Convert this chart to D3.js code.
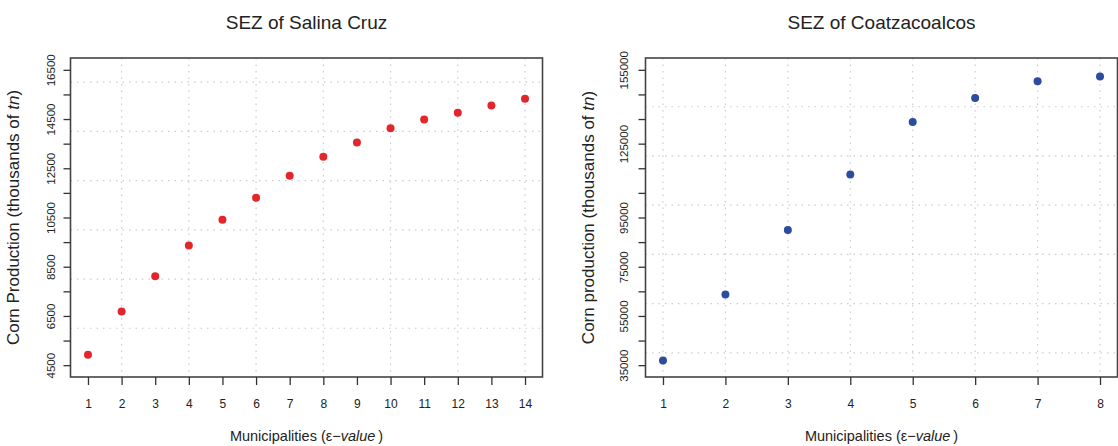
<!DOCTYPE html>
<html>
<head>
<meta charset="utf-8">
<script src="https://cdn.jsdelivr.net/npm/d3@7"></script>
<style>
  body { margin: 0; background: #fff; }
  text { font-family: "Liberation Sans", Arial, Helvetica, sans-serif; fill: #222; }
</style>
</head>
<body>
<svg id="chart" width="1118" height="446"></svg>
<script>
// ---- data ----
var salinaMun = [1, 2, 3, 4, 5, 6, 7, 8, 9, 10, 11, 12, 13, 14];
var salinaProd = [4920, 6680, 8110, 9360, 10410, 11300, 12200, 12970, 13550, 14130, 14480, 14760, 15050, 15320];
var salinaYTicks = [4500, 5500, 6500, 7500, 8500, 9500, 10500, 11500, 12500, 13500, 14500, 15500, 16500];
var salinaYLabels = [4500, 6500, 8500, 10500, 12500, 14500, 16500];
var salinaXGrid = [2, 4, 6, 8, 10, 12, 14];
var salinaYGrid = [6000, 8000, 10000, 12000, 14000, 16000];

var coatzaMun = [1, 2, 3, 4, 5, 6, 7, 8];
var coatzaProd = [36900, 63700, 89900, 112500, 133800, 143500, 150400, 152300];
var coatzaYTicks = [35000, 45000, 55000, 65000, 75000, 85000, 95000, 105000, 115000, 125000, 135000, 145000, 155000];
var coatzaYLabels = [35000, 55000, 75000, 95000, 125000, 155000];
var coatzaXGrid = [1, 2, 3, 4, 5, 6, 7, 8];
var coatzaYGrid = [40000, 60000, 80000, 100000, 120000, 140000];

var svg = d3.select("#chart");

var plotTop = 58, plotBottom = 377;

// R style: extend limits by 4% each side
function padded(lim) {
  var d = (lim[1] - lim[0]) * 0.04;
  return [lim[0] - d, lim[1] + d];
}

panel({
  left: 70.5, right: 542.5,
  mun: salinaMun, prod: salinaProd,
  xlim: [1, 14], ylim: [4500, 16500],
  yTicks: salinaYTicks, yLabels: salinaYLabels,
  xGrid: salinaXGrid, yGrid: salinaYGrid,
  color: "#e3262b",
  title: "SEZ of Salina Cruz",
  yTitle: "Corn Production",
  yTitleX: 18.5, labelOff: -16
});

panel({
  left: 645.5, right: 1117.5,
  mun: coatzaMun, prod: coatzaProd,
  xlim: [1, 8], ylim: [35000, 155000],
  yTicks: coatzaYTicks, yLabels: coatzaYLabels,
  xGrid: coatzaXGrid, yGrid: coatzaYGrid,
  color: "#2c4c9e",
  title: "SEZ of Coatzacoalcos",
  yTitle: "Corn production",
  yTitleX: 594, labelOff: -17.5
});

function panel(o) {
  var x = d3.scaleLinear().domain(padded(o.xlim)).range([o.left, o.right]);
  var y = d3.scaleLinear().domain(padded(o.ylim)).range([plotBottom, plotTop]);
  var g = svg.append("g");

  // dotted grid
  g.selectAll(".vgrid").data(o.xGrid).enter().append("line")
      .attr("x1", d => x(d)).attr("x2", d => x(d))
      .attr("y1", plotTop).attr("y2", plotBottom)
      .style("stroke", "#cccccc").style("stroke-width", 1.2)
      .style("stroke-dasharray", "1.5,5");
  g.selectAll(".hgrid").data(o.yGrid).enter().append("line")
      .attr("x1", o.left).attr("x2", o.right)
      .attr("y1", d => y(d)).attr("y2", d => y(d))
      .style("stroke", "#cccccc").style("stroke-width", 1.2)
      .style("stroke-dasharray", "1.5,5");

  // box
  g.append("rect")
      .attr("x", o.left).attr("y", plotTop)
      .attr("width", o.right - o.left).attr("height", plotBottom - plotTop)
      .style("fill", "none").style("stroke", "#444").style("stroke-width", 1.6);

  // x axis
  var xAxis = g.append("g")
      .attr("transform", "translate(0," + plotBottom + ")")
      .call(d3.axisBottom(x).tickValues(o.mun).tickSize(8).tickPadding(14).tickFormat(d3.format("d")))
      .call(a => a.select(".domain").remove());
  xAxis.selectAll("line").style("stroke", "#333").style("stroke-width", 1.3);
  xAxis.selectAll("text").style("font-size", "12px").style("font-family", null).style("fill", "#222");

  // y axis with rotated labels, some ticks unlabeled
  var yAxis = g.append("g")
      .attr("transform", "translate(" + o.left + ",0)")
      .call(d3.axisLeft(y).tickValues(o.yTicks).tickSize(7)
            .tickFormat(d => o.yLabels.indexOf(d) >= 0 ? d : ""))
      .call(a => a.select(".domain").remove());
  yAxis.selectAll("line").style("stroke", "#333").style("stroke-width", 1.3);
  yAxis.selectAll("text")
      .attr("x", 0).attr("dy", 0)
      .attr("text-anchor", "middle")
      .attr("transform", "translate(" + o.labelOff + ",0) rotate(-90)")
      .style("font-size", "11.5px").style("font-family", null).style("fill", "#222");

  // points
  g.selectAll(".pt").data(o.mun).enter().append("circle")
      .attr("cx", d => x(d))
      .attr("cy", (d, i) => y(o.prod[i]))
      .attr("r", 4)
      .style("fill", o.color);

  // titles
  svg.append("text")
      .attr("x", (o.left + o.right) / 2).attr("y", 29)
      .attr("text-anchor", "middle")
      .style("font-size", "19px")
      .text(o.title);

  var xt = svg.append("text")
      .attr("x", (o.left + o.right) / 2).attr("y", 441)
      .attr("text-anchor", "middle")
      .style("font-size", "14.5px");
  xt.append("tspan").text("Municipalities (\u03b5\u2212");
  xt.append("tspan").style("font-style", "italic").text("value");
  xt.append("tspan").text("\u2009)");

  var yt = svg.append("text")
      .attr("transform", "translate(" + o.yTitleX + "," + (plotTop + plotBottom) / 2 + ") rotate(-90)")
      .attr("text-anchor", "middle")
      .style("font-size", "17px");
  yt.append("tspan").text(o.yTitle + " (thousands of ");
  yt.append("tspan").style("font-style", "italic").text("tn");
  yt.append("tspan").text(")");
}
</script>
</body>
</html>
